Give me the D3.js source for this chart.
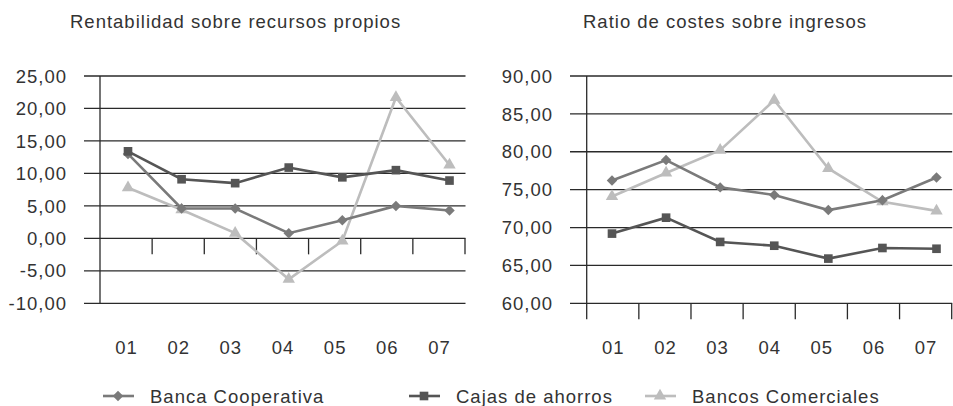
<!DOCTYPE html>
<html>
<head>
<meta charset="utf-8">
<style>
  body { margin: 0; background: #fff; }
  svg text { font-family: "Liberation Sans", Arial, sans-serif; fill: #333; font-size: 18.5px; letter-spacing: 1px; }
</style>
</head>
<body>
<script src="https://cdn.jsdelivr.net/npm/d3@7"></script>
<script>
// categories (years)
var years = ["01", "02", "03", "04", "05", "06", "07"];
var seriesNames = ["Banca Cooperativa", "Cajas de ahorros", "Bancos Comerciales"];

// Rentabilidad sobre recursos propios
var roeTitle = "Rentabilidad sobre recursos propios";
var roeTicks = [-10, -5, 0, 5, 10, 15, 20, 25];
var roeBanca = [13.0, 4.6, 4.6, 0.8, 2.8, 5.0, 4.3];
var roeCajas = [13.4, 9.1, 8.5, 10.9, 9.4, 10.5, 8.9];
var roeBancos = [7.8, 4.4, 0.8, -6.3, -0.4, 21.7, 11.3];

// Ratio de costes sobre ingresos
var costTitle = "Ratio de costes sobre ingresos";
var costTicks = [60, 65, 70, 75, 80, 85, 90];
var costBanca = [76.2, 78.9, 75.3, 74.3, 72.3, 73.6, 76.6];
var costCajas = [69.2, 71.3, 68.1, 67.6, 65.9, 67.3, 67.2];
var costBancos = [74.1, 77.2, 80.2, 86.8, 77.8, 73.4, 72.2];

var width = 953, height = 406;
var colors = ["#7a7a7a", "#555555", "#bdbdbd"];
var symbols = [d3.symbolDiamond2, d3.symbolSquare2, d3.symbolTriangle2];
var symSizes = [70, 95, 110];

var es = d3.formatLocale({decimal: ",", thousands: ".", grouping: [3], currency: ["", "€"], minus: "-"});
var fmt = es.format(".2f");

var svg = d3.select("body").append("svg")
    .attr("width", width)
    .attr("height", height);

function drawChart(opt) {
  var g = svg.append("g");
  var y = d3.scaleLinear().domain(opt.domain).range([303.3, 76]);
  var xBand = d3.scaleBand().domain(years).range([opt.axisX, opt.axisX + 365]);
  var xPt = d3.scalePoint().domain(years).range(opt.ptRange);

  g.append("text")
      .attr("x", opt.titleX)
      .attr("y", 28)
      .text(opt.title);

  // gridlines
  g.selectAll(".grid").data(opt.ticks).enter().append("line")
      .attr("x1", opt.gridX0).attr("x2", opt.axisX + 365.5)
      .attr("y1", function(d) { return y(d); }).attr("y2", function(d) { return y(d); })
      .attr("stroke", "#2a2a2a").attr("stroke-width", 1.3);

  // y tick labels (letter-spacing leaves a trailing gap, so shift by 1px)
  g.selectAll(".ylab").data(opt.ticks).enter().append("text")
      .attr("x", opt.labelX + 1)
      .attr("y", function(d) { return y(d); })
      .attr("dy", "0.36em")
      .attr("text-anchor", "end")
      .text(function(d) { return fmt(d); });

  // y axis and hanging category ticks
  var base = y(opt.baseValue);
  g.append("line")
      .attr("x1", opt.axisX).attr("x2", opt.axisX)
      .attr("y1", 76).attr("y2", opt.axisBottom)
      .attr("stroke", "#2a2a2a").attr("stroke-width", 1.3);
  g.selectAll(".xtick").data(years).enter().append("line")
      .attr("x1", function(d) { return xBand(d) + xBand.bandwidth(); })
      .attr("x2", function(d) { return xBand(d) + xBand.bandwidth(); })
      .attr("y1", base).attr("y2", base + 16)
      .attr("stroke", "#2a2a2a").attr("stroke-width", 1.3);

  g.selectAll(".xlab").data(years).enter().append("text")
      .attr("x", function(d) { return xBand(d) + xBand.bandwidth() / 2 + 0.5; })
      .attr("y", 347)
      .attr("dy", "0.36em")
      .attr("text-anchor", "middle")
      .text(function(d) { return d; });

  var line = d3.line()
      .x(function(d, i) { return xPt(years[i]); })
      .y(function(d) { return y(d); });

  // light series first, darker ones on top
  [2, 0, 1].forEach(function(s) {
    var vals = opt.series[s];
    g.append("path")
        .attr("d", line(vals))
        .attr("fill", "none")
        .attr("stroke", colors[s])
        .attr("stroke-width", 2.6);
    g.selectAll(".m" + s).data(vals).enter().append("path")
        .attr("transform", function(d, i) { return "translate(" + xPt(years[i]) + "," + y(d) + ")"; })
        .attr("d", d3.symbol().type(symbols[s]).size(symSizes[s]))
        .attr("fill", colors[s]);
  });
}

drawChart({
  title: roeTitle, titleX: 70, domain: [-10, 25], ticks: roeTicks,
  axisX: 100, gridX0: 84, labelX: 66, baseValue: 0, axisBottom: 303.3,
  ptRange: [128, 449.5],
  series: [roeBanca, roeCajas, roeBancos]
});

drawChart({
  title: costTitle, titleX: 583, domain: [60, 90], ticks: costTicks,
  axisX: 586.7, gridX0: 570, labelX: 552, baseValue: 60, axisBottom: 319.3,
  ptRange: [612, 936.5],
  series: [costBanca, costCajas, costBancos]
});

// legend
var legendX = [118, 424, 660];
var legend = svg.append("g");
seriesNames.forEach(function(name, s) {
  var cx = legendX[s];
  legend.append("line")
      .attr("x1", cx - 15).attr("x2", cx + 16)
      .attr("y1", 396).attr("y2", 396)
      .attr("stroke", colors[s]).attr("stroke-width", 2.6);
  legend.append("path")
      .attr("transform", "translate(" + cx + ",396)")
      .attr("d", d3.symbol().type(symbols[s]).size(symSizes[s]))
      .attr("fill", colors[s]);
  legend.append("text")
      .attr("x", cx + 32)
      .attr("y", 396)
      .attr("dy", "0.36em")
      .text(name);
});
</script>
</body>
</html>
